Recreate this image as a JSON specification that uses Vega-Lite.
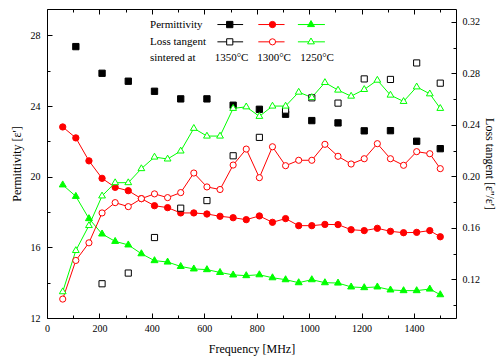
{
  "$schema": "https://vega.github.io/schema/vega-lite/v6.json",
  "width": 409,
  "height": 309,
  "autosize": "none",
  "padding": {"left": 47, "top": 9, "right": 40, "bottom": 40},
  "background": "white",
  "config": {
    "view": {"stroke": null},
    "font": "Liberation Serif",
    "axis": {
      "domainColor": "black", "domainWidth": 1, "tickColor": "black", "tickWidth": 1,
      "labelColor": "black", "titleColor": "black", "labelFont": "Liberation Serif",
      "titleFont": "Liberation Serif", "labelFontSize": 10, "titleFontSize": 12,
      "titleFontWeight": "normal", "grid": false, "labelFlush": false, "labelOverlap": false, "labelBound": false
    }
  },
  "datasets": {
    "perm": [
      {"f": 110, "v": 27.37, "temp": "1350"}, {"f": 210, "v": 25.86, "temp": "1350"}, {"f": 310, "v": 25.41, "temp": "1350"},
      {"f": 410, "v": 24.84, "temp": "1350"}, {"f": 510, "v": 24.41, "temp": "1350"}, {"f": 610, "v": 24.41, "temp": "1350"},
      {"f": 710, "v": 24.05, "temp": "1350"}, {"f": 810, "v": 23.82, "temp": "1350"}, {"f": 910, "v": 23.54, "temp": "1350"},
      {"f": 1010, "v": 23.18, "temp": "1350"}, {"f": 1110, "v": 23.05, "temp": "1350"}, {"f": 1210, "v": 22.6, "temp": "1350"},
      {"f": 1310, "v": 22.61, "temp": "1350"}, {"f": 1410, "v": 22.01, "temp": "1350"}, {"f": 1500, "v": 21.59, "temp": "1350"},
      {"f": 60, "v": 22.82, "temp": "1300"}, {"f": 110, "v": 22.2, "temp": "1300"}, {"f": 160, "v": 20.9, "temp": "1300"},
      {"f": 210, "v": 19.91, "temp": "1300"}, {"f": 260, "v": 19.4, "temp": "1300"}, {"f": 310, "v": 19.21, "temp": "1300"},
      {"f": 360, "v": 18.76, "temp": "1300"}, {"f": 410, "v": 18.36, "temp": "1300"}, {"f": 460, "v": 18.25, "temp": "1300"},
      {"f": 510, "v": 17.95, "temp": "1300"}, {"f": 560, "v": 17.95, "temp": "1300"}, {"f": 610, "v": 17.89, "temp": "1300"},
      {"f": 660, "v": 17.76, "temp": "1300"}, {"f": 710, "v": 17.68, "temp": "1300"}, {"f": 760, "v": 17.57, "temp": "1300"},
      {"f": 810, "v": 17.78, "temp": "1300"}, {"f": 860, "v": 17.42, "temp": "1300"}, {"f": 910, "v": 17.63, "temp": "1300"},
      {"f": 960, "v": 17.23, "temp": "1300"}, {"f": 1010, "v": 17.23, "temp": "1300"}, {"f": 1060, "v": 17.3, "temp": "1300"},
      {"f": 1110, "v": 17.29, "temp": "1300"}, {"f": 1160, "v": 17.0, "temp": "1300"}, {"f": 1210, "v": 16.95, "temp": "1300"},
      {"f": 1260, "v": 17.08, "temp": "1300"}, {"f": 1310, "v": 16.91, "temp": "1300"}, {"f": 1360, "v": 16.83, "temp": "1300"},
      {"f": 1410, "v": 16.85, "temp": "1300"}, {"f": 1460, "v": 16.95, "temp": "1300"}, {"f": 1500, "v": 16.6, "temp": "1300"},
      {"f": 60, "v": 19.54, "temp": "1250"}, {"f": 110, "v": 18.89, "temp": "1250"}, {"f": 160, "v": 17.63, "temp": "1250"},
      {"f": 210, "v": 16.76, "temp": "1250"}, {"f": 260, "v": 16.34, "temp": "1250"}, {"f": 310, "v": 16.14, "temp": "1250"},
      {"f": 360, "v": 15.64, "temp": "1250"}, {"f": 410, "v": 15.25, "temp": "1250"}, {"f": 460, "v": 15.17, "temp": "1250"},
      {"f": 510, "v": 14.92, "temp": "1250"}, {"f": 560, "v": 14.78, "temp": "1250"}, {"f": 610, "v": 14.74, "temp": "1250"},
      {"f": 660, "v": 14.58, "temp": "1250"}, {"f": 710, "v": 14.44, "temp": "1250"}, {"f": 760, "v": 14.4, "temp": "1250"},
      {"f": 810, "v": 14.45, "temp": "1250"}, {"f": 860, "v": 14.28, "temp": "1250"}, {"f": 910, "v": 14.17, "temp": "1250"},
      {"f": 960, "v": 14.0, "temp": "1250"}, {"f": 1010, "v": 14.17, "temp": "1250"}, {"f": 1060, "v": 14.0, "temp": "1250"},
      {"f": 1110, "v": 13.98, "temp": "1250"}, {"f": 1160, "v": 13.76, "temp": "1250"}, {"f": 1210, "v": 13.72, "temp": "1250"},
      {"f": 1260, "v": 13.76, "temp": "1250"}, {"f": 1310, "v": 13.59, "temp": "1250"}, {"f": 1360, "v": 13.55, "temp": "1250"},
      {"f": 1410, "v": 13.55, "temp": "1250"}, {"f": 1460, "v": 13.64, "temp": "1250"}, {"f": 1500, "v": 13.32, "temp": "1250"}
    ],
    "loss": [
      {"f": 210, "v": 0.1166, "temp": "1350"}, {"f": 310, "v": 0.1249, "temp": "1350"}, {"f": 410, "v": 0.1525, "temp": "1350"},
      {"f": 510, "v": 0.1753, "temp": "1350"}, {"f": 610, "v": 0.1812, "temp": "1350"}, {"f": 710, "v": 0.216, "temp": "1350"},
      {"f": 810, "v": 0.2303, "temp": "1350"}, {"f": 910, "v": 0.2515, "temp": "1350"}, {"f": 1010, "v": 0.261, "temp": "1350"},
      {"f": 1110, "v": 0.2569, "temp": "1350"}, {"f": 1210, "v": 0.2757, "temp": "1350"}, {"f": 1310, "v": 0.2753, "temp": "1350"},
      {"f": 1410, "v": 0.2881, "temp": "1350"}, {"f": 1500, "v": 0.2724, "temp": "1350"},
      {"f": 60, "v": 0.1047, "temp": "1300"}, {"f": 110, "v": 0.1347, "temp": "1300"}, {"f": 160, "v": 0.1484, "temp": "1300"},
      {"f": 210, "v": 0.1716, "temp": "1300"}, {"f": 260, "v": 0.1796, "temp": "1300"}, {"f": 310, "v": 0.1765, "temp": "1300"},
      {"f": 360, "v": 0.1827, "temp": "1300"}, {"f": 410, "v": 0.1864, "temp": "1300"}, {"f": 460, "v": 0.1835, "temp": "1300"},
      {"f": 510, "v": 0.1874, "temp": "1300"}, {"f": 560, "v": 0.2026, "temp": "1300"}, {"f": 610, "v": 0.1918, "temp": "1300"},
      {"f": 660, "v": 0.1898, "temp": "1300"}, {"f": 710, "v": 0.2088, "temp": "1300"}, {"f": 760, "v": 0.2212, "temp": "1300"},
      {"f": 810, "v": 0.199, "temp": "1300"}, {"f": 860, "v": 0.223, "temp": "1300"}, {"f": 910, "v": 0.2083, "temp": "1300"},
      {"f": 960, "v": 0.2125, "temp": "1300"}, {"f": 1010, "v": 0.2125, "temp": "1300"}, {"f": 1060, "v": 0.2249, "temp": "1300"},
      {"f": 1110, "v": 0.2156, "temp": "1300"}, {"f": 1160, "v": 0.2096, "temp": "1300"}, {"f": 1210, "v": 0.2137, "temp": "1300"},
      {"f": 1260, "v": 0.2254, "temp": "1300"}, {"f": 1310, "v": 0.2137, "temp": "1300"}, {"f": 1360, "v": 0.2086, "temp": "1300"},
      {"f": 1410, "v": 0.2192, "temp": "1300"}, {"f": 1460, "v": 0.2176, "temp": "1300"}, {"f": 1500, "v": 0.206, "temp": "1300"},
      {"f": 60, "v": 0.1104, "temp": "1250"}, {"f": 110, "v": 0.1424, "temp": "1250"}, {"f": 160, "v": 0.1618, "temp": "1250"},
      {"f": 210, "v": 0.1848, "temp": "1250"}, {"f": 260, "v": 0.1951, "temp": "1250"}, {"f": 310, "v": 0.1951, "temp": "1250"},
      {"f": 360, "v": 0.206, "temp": "1250"}, {"f": 410, "v": 0.215, "temp": "1250"}, {"f": 460, "v": 0.2135, "temp": "1250"},
      {"f": 510, "v": 0.2197, "temp": "1250"}, {"f": 560, "v": 0.2373, "temp": "1250"}, {"f": 610, "v": 0.2313, "temp": "1250"},
      {"f": 660, "v": 0.2313, "temp": "1250"}, {"f": 710, "v": 0.2528, "temp": "1250"}, {"f": 760, "v": 0.254, "temp": "1250"},
      {"f": 810, "v": 0.2466, "temp": "1250"}, {"f": 860, "v": 0.2546, "temp": "1250"}, {"f": 910, "v": 0.2546, "temp": "1250"},
      {"f": 960, "v": 0.2654, "temp": "1250"}, {"f": 1010, "v": 0.2613, "temp": "1250"}, {"f": 1060, "v": 0.2729, "temp": "1250"},
      {"f": 1110, "v": 0.267, "temp": "1250"}, {"f": 1160, "v": 0.2623, "temp": "1250"}, {"f": 1210, "v": 0.2675, "temp": "1250"},
      {"f": 1260, "v": 0.2747, "temp": "1250"}, {"f": 1310, "v": 0.2631, "temp": "1250"}, {"f": 1360, "v": 0.2582, "temp": "1250"},
      {"f": 1410, "v": 0.2695, "temp": "1250"}, {"f": 1460, "v": 0.2641, "temp": "1250"}, {"f": 1500, "v": 0.2528, "temp": "1250"}
    ],
    "legendRows": [
      {"label": "Permittivity", "f": 393, "v": 28.62},
      {"label": "Loss tangent", "f": 393, "v": 27.64},
      {"label": "sintered at", "f": 393, "v": 26.73}
    ],
    "legendTemps": [
      {"label": "1350°C", "f": 704, "v": 26.73},
      {"label": "1300°C", "f": 866, "v": 26.73},
      {"label": "1250°C", "f": 1030, "v": 26.73}
    ],
    "legendLines": [
      {"temp": "1350", "f": 650, "f2": 748, "v": 28.62}, {"temp": "1300", "f": 806, "f2": 906, "v": 28.62}, {"temp": "1250", "f": 957, "f2": 1060, "v": 28.62},
      {"temp": "1350", "f": 650, "f2": 748, "v": 27.64}, {"temp": "1300", "f": 806, "f2": 906, "v": 27.64}, {"temp": "1250", "f": 957, "f2": 1060, "v": 27.64}
    ],
    "legendPts": [
      {"temp": "1350", "kind": "perm", "f": 697, "v": 28.62}, {"temp": "1300", "kind": "perm", "f": 860, "v": 28.62}, {"temp": "1250", "kind": "perm", "f": 1007, "v": 28.62},
      {"temp": "1350", "kind": "loss", "f": 697, "v": 27.64}, {"temp": "1300", "kind": "loss", "f": 860, "v": 27.64}, {"temp": "1250", "kind": "loss", "f": 1007, "v": 27.64}
    ]
  },
  "layer": [
    {
      "encoding": {
        "x": {"field": "f", "type": "quantitative", "scale": {"domain": [0, 1560], "nice": false, "zero": false},
          "axis": {"orient": "bottom", "values": [0,100,200,300,400,500,600,700,800,900,1000,1100,1200,1300,1400,1500],
            "format": "d", "labelExpr": "datum.value % 200 === 0 ? datum.label : ''",
            "tickSize": {"condition": {"test": "datum.value % 200 === 0", "value": -5}, "value": -3},
            "labelPadding": 10, "title": "Frequency [MHz]", "titlePadding": 8}},
        "y": {"field": "v", "type": "quantitative", "scale": {"domain": [12, 29.5], "nice": false, "zero": false},
          "axis": {"orient": "left", "values": [12,14,16,18,20,22,24,26,28], "format": "d",
            "labelExpr": "datum.value % 4 === 0 ? datum.label : ''",
            "tickSize": {"condition": {"test": "datum.value % 4 === 0", "value": -5}, "value": -3},
            "labelPadding": 12, "title": "Permittivity [ε']", "titlePadding": 7}}
      },
      "layer": [
        {"data": {"name": "perm"}, "transform": [{"filter": "datum.temp !== '1350'"}],
          "mark": {"type": "line", "strokeWidth": 1},
          "encoding": {"stroke": {"field": "temp", "type": "nominal", "scale": {"domain": ["1350","1300","1250"], "range": ["#000000","#ff0000","#00ff00"]}, "legend": null}}},
        {"data": {"name": "perm"},
          "mark": {"type": "point", "size": 40, "opacity": 1, "strokeWidth": 1},
          "encoding": {
            "stroke": {"field": "temp", "type": "nominal", "scale": {"domain": ["1350","1300","1250"], "range": ["#000000","#ff0000","#00ff00"]}, "legend": null},
            "fill": {"field": "temp", "type": "nominal", "scale": {"domain": ["1350","1300","1250"], "range": ["#000000","#ff0000","#00ff00"]}, "legend": null},
            "shape": {"field": "temp", "type": "nominal", "scale": {"domain": ["1350","1300","1250"], "range": ["square","circle","M0,-1.25L1.1,0.65L-1.1,0.65Z"]}, "legend": null}}},
        {"data": {"name": "legendLines"},
          "mark": {"type": "rule", "strokeWidth": 1},
          "encoding": {"x2": {"field": "f2"},
            "stroke": {"field": "temp", "type": "nominal", "scale": {"domain": ["1350","1300","1250"], "range": ["#000000","#ff0000","#00ff00"]}, "legend": null}}},
        {"data": {"name": "legendPts"}, "transform": [{"filter": "datum.kind === 'perm'"}],
          "mark": {"type": "point", "size": 40, "opacity": 1, "strokeWidth": 1},
          "encoding": {
            "stroke": {"field": "temp", "type": "nominal", "scale": {"domain": ["1350","1300","1250"], "range": ["#000000","#ff0000","#00ff00"]}, "legend": null},
            "fill": {"field": "temp", "type": "nominal", "scale": {"domain": ["1350","1300","1250"], "range": ["#000000","#ff0000","#00ff00"]}, "legend": null},
            "shape": {"field": "temp", "type": "nominal", "scale": {"domain": ["1350","1300","1250"], "range": ["square","circle","M0,-1.25L1.1,0.65L-1.1,0.65Z"]}, "legend": null}}},
        {"data": {"name": "legendPts"}, "transform": [{"filter": "datum.kind === 'loss'"}],
          "mark": {"type": "point", "size": 38, "opacity": 1, "strokeWidth": 1},
          "encoding": {
            "stroke": {"field": "temp", "type": "nominal", "scale": {"domain": ["1350","1300","1250"], "range": ["#000000","#ff0000","#00ff00"]}, "legend": null},
            "fill": {"value": "white"},
            "shape": {"field": "temp", "type": "nominal", "scale": {"domain": ["1350","1300","1250"], "range": ["square","circle","M0,-1.25L1.1,0.65L-1.1,0.65Z"]}, "legend": null}}},
        {"data": {"name": "legendRows"},
          "mark": {"type": "text", "align": "left", "baseline": "middle", "fontSize": 11, "font": "Liberation Serif", "color": "black"},
          "encoding": {"text": {"field": "label"}}},
        {"data": {"name": "legendTemps"},
          "mark": {"type": "text", "align": "center", "baseline": "middle", "fontSize": 11, "font": "Liberation Serif", "color": "black"},
          "encoding": {"text": {"field": "label"}}}
      ]
    },
    {
      "data": {"name": "loss"},
      "encoding": {
        "x": {"field": "f", "type": "quantitative", "scale": {"domain": [0, 1560], "nice": false, "zero": false},
          "axis": {"orient": "top", "values": [0,100,200,300,400,500,600,700,800,900,1000,1100,1200,1300,1400,1500],
            "labels": false, "title": null,
            "tickSize": {"condition": {"test": "datum.value % 200 === 0", "value": -5}, "value": -3}}},
        "y": {"field": "v", "type": "quantitative", "scale": {"domain": [0.09, 0.33], "nice": false, "zero": false},
          "axis": {"orient": "right", "values": [0.1,0.12,0.14,0.16,0.18,0.2,0.22,0.24,0.26,0.28,0.3,0.32],
            "labelExpr": "round(datum.value*100) % 4 === 0 ? format(datum.value, '.2f') : ''",
            "tickSize": {"condition": {"test": "round(datum.value*100) % 4 === 0", "value": -5}, "value": -3},
            "labelPadding": 11, "title": "Loss tangent [ε''/ε']", "titlePadding": 3}}
      },
      "layer": [
        {"transform": [{"filter": "datum.temp !== '1350'"}],
          "mark": {"type": "line", "strokeWidth": 1},
          "encoding": {"stroke": {"field": "temp", "type": "nominal", "scale": {"domain": ["1350","1300","1250"], "range": ["#000000","#ff0000","#00ff00"]}, "legend": null}}},
        {"mark": {"type": "point", "size": 38, "opacity": 1, "strokeWidth": 1},
          "encoding": {
            "stroke": {"field": "temp", "type": "nominal", "scale": {"domain": ["1350","1300","1250"], "range": ["#000000","#ff0000","#00ff00"]}, "legend": null},
            "fill": {"value": "white"},
            "shape": {"field": "temp", "type": "nominal", "scale": {"domain": ["1350","1300","1250"], "range": ["square","circle","M0,-1.25L1.1,0.65L-1.1,0.65Z"]}, "legend": null}}}
      ]
    }
  ],
  "resolve": {"scale": {"x": "independent", "y": "independent"}}
}
